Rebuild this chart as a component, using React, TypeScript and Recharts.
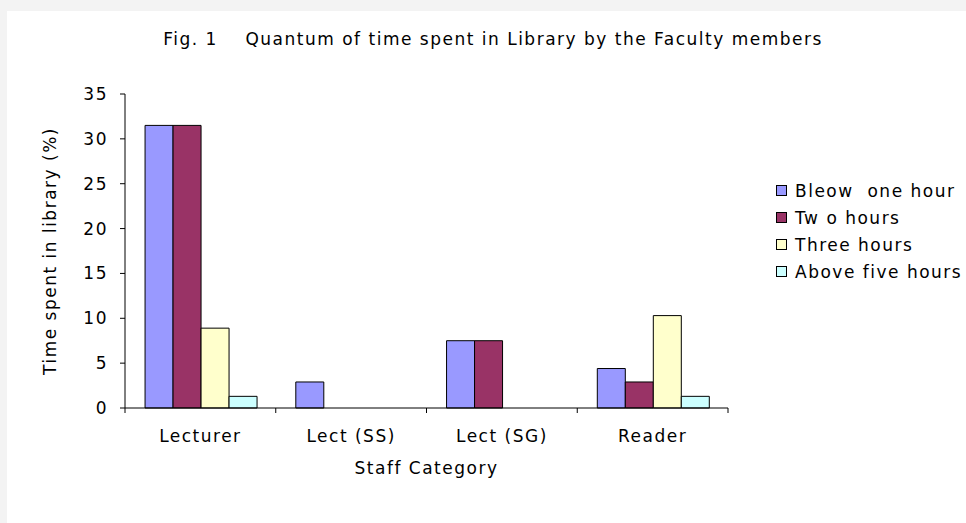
import React from 'react';
import { BarChart, Bar, XAxis, YAxis, Legend, Label, Customized } from 'recharts';

const categories = ['Lecturer', 'Lect (SS)', 'Lect (SG)', 'Reader'];
const belowOneHour = [31.5, 2.9, 7.5, 4.4];
const twoHours = [31.5, 0, 7.5, 2.9];
const threeHours = [8.9, 0, 0, 10.3];
const aboveFiveHours = [1.3, 0, 0, 1.3];
const seriesNames = ['Bleow  one hour', 'Tw o hours', 'Three hours', 'Above five hours'];
const seriesKeys = ['s0', 's1', 's2', 's3'];
const seriesColors = ['#9999FF', '#993366', '#FFFFCC', '#CCFFFF'];
const yTicks = [0, 5, 10, 15, 20, 25, 30, 35];
const titleText = 'Fig. 1    Quantum of time spent in Library by the Faculty members';
const xAxisTitle = 'Staff Category';
const yAxisTitle = 'Time spent in library (%)';

const data = categories.map((c, i) => ({
  category: c,
  s0: belowOneHour[i],
  s1: twoHours[i],
  s2: threeHours[i],
  s3: aboveFiveHours[i],
}));

const FONT = '"DejaVu Sans", Verdana, sans-serif';
const FS = 17;
const LS = 1.5;
const TICK_SIZE = 5;
const X_TICK_MARGIN = 17;

const XTick = (props: any) => {
  const { x, y, payload, index } = props;
  const half = payload && typeof payload.offset === 'number' ? payload.offset : 0;
  const axisY = y - TICK_SIZE - X_TICK_MARGIN;
  return (
    <g>
      <line x1={x + half} x2={x + half} y1={axisY} y2={axisY + TICK_SIZE} stroke="#000" strokeWidth={1} />
      {index === 0 && (
        <line x1={x - half} x2={x - half} y1={axisY} y2={axisY + TICK_SIZE} stroke="#000" strokeWidth={1} />
      )}
      <text x={x} y={y} dy="0.71em" textAnchor="middle" fill="#000" fontFamily={FONT} fontSize={FS} letterSpacing={LS}>
        {payload.value}
      </text>
    </g>
  );
};

const YTitle = (props: any) => {
  const vb = props.viewBox || {};
  const cx = vb.x - 15;
  const cy = vb.y + vb.height / 2;
  return (
    <text
      x={cx}
      y={cy}
      transform={`rotate(-90, ${cx}, ${cy})`}
      textAnchor="middle"
      dominantBaseline="central"
      fill="#000"
      fontFamily={FONT}
      fontSize={FS}
      letterSpacing={LS}
    >
      {yAxisTitle}
    </text>
  );
};

const XTitle = (props: any) => {
  const vb = props.viewBox || {};
  return (
    <text
      x={vb.x + vb.width / 2}
      y={vb.y + 66}
      textAnchor="middle"
      fill="#000"
      fontFamily={FONT}
      fontSize={FS}
      letterSpacing={LS}
    >
      {xAxisTitle}
    </text>
  );
};

const ChartTitle = () => (
  <text
    x={493}
    y={45}
    textAnchor="middle"
    fill="#000"
    fontFamily={FONT}
    fontSize={FS}
    letterSpacing={1.5}
    style={{ whiteSpace: 'pre' }}
  >
    {titleText}
  </text>
);

const LegendContent = () => (
  <div style={{ fontFamily: FONT, fontSize: FS, letterSpacing: LS, color: '#000' }}>
    {seriesNames.map((n, i) => (
      <div key={n} style={{ display: 'flex', alignItems: 'center', height: 27, whiteSpace: 'pre' }}>
        <span
          style={{
            display: 'inline-block',
            width: 9,
            height: 9,
            border: '1px solid #000',
            background: seriesColors[i],
            marginRight: 8,
            flex: 'none',
          }}
        />
        <span>{n}</span>
      </div>
    ))}
  </div>
);

export default function App() {
  return (
    <div style={{ position: 'absolute', left: 0, top: 0, width: 966, height: 523, background: '#f3f3f3' }}>
      <div style={{ position: 'absolute', left: 7, top: 11, width: 959, height: 512, background: '#ffffff' }} />
      <div style={{ position: 'absolute', left: 0, top: 0 }}>
        <BarChart
          width={966}
          height={523}
          data={data}
          margin={{ top: 94, right: 238, bottom: 55, left: 65 }}
          barGap={0}
          barCategoryGap="13.3%"
        >
          <XAxis
            dataKey="category"
            height={60}
            axisLine={{ stroke: '#000', strokeWidth: 1 }}
            tickLine={false}
            tickSize={TICK_SIZE}
            tickMargin={X_TICK_MARGIN}
            tick={<XTick />}
            interval={0}
          >
            <Label content={<XTitle />} />
          </XAxis>
          <YAxis
            width={60}
            domain={[0, 35]}
            ticks={yTicks}
            interval={0}
            axisLine={{ stroke: '#000', strokeWidth: 1 }}
            tickLine={{ stroke: '#000', strokeWidth: 1 }}
            tickSize={TICK_SIZE}
            tickMargin={12}
            tick={{ fill: '#000', fontSize: FS, fontFamily: FONT, letterSpacing: LS }}
          >
            <Label content={<YTitle />} />
          </YAxis>
          <Legend
            layout="vertical"
            align="center"
            verticalAlign="middle"
            wrapperStyle={{ left: 776, top: 177, width: 190 }}
            content={<LegendContent />}
          />
          {seriesKeys.map((k, i) => (
            <Bar
              key={k}
              dataKey={k}
              name={seriesNames[i]}
              fill={seriesColors[i]}
              stroke="#000"
              strokeWidth={1}
              isAnimationActive={false}
            />
          ))}
          <Customized component={ChartTitle} />
        </BarChart>
      </div>
    </div>
  );
}
